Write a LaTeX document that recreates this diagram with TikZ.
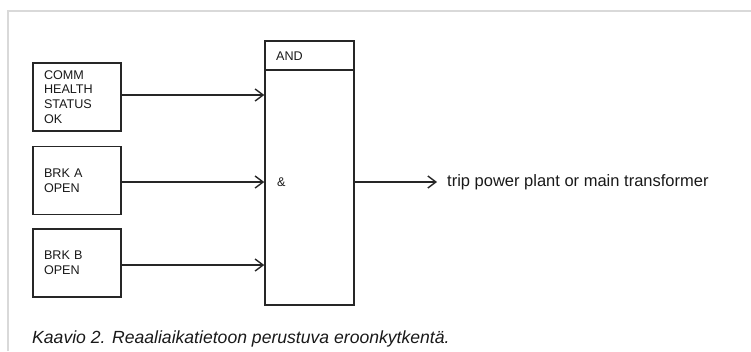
\documentclass[tikz,border=0pt]{standalone}
\usepackage{fontspec}
\setmainfont{Liberation Sans}
\usetikzlibrary{arrows.meta}
\begin{document}
\begin{tikzpicture}[x=1pt,y=-1pt,
  line/.style={draw=black!85,line width=1.5pt},
  arr/.style={line,-{Straight Barb[length=8pt,width=12pt,line width=1.4pt]}},
  inbox/.style={line,rectangle,minimum width=88pt,minimum height=68pt,inner xsep=11pt,inner ysep=0pt,
    text width=66pt,align=left,font=\fontsize{12.6}{14.7}\selectfont,text=black!90},
  lbl/.style={inner sep=0pt,anchor=west,text=black!90}]
\useasboundingbox (0,0) rectangle (751,351);
\draw[gray!30,line width=2pt] (8,351) -- (8,11) -- (751,11);
% input boxes
\node[inbox] (b1) at (77,97) {COMM\\HEALTH\\STATUS\\OK};
\node[inbox] (b2) at (77,180.5) {BRK A\\OPEN};
\node[inbox] (b3) at (77,263) {BRK B\\OPEN};
% AND block
\node[line,rectangle,minimum width=89pt,minimum height=29pt,inner sep=0pt] (andhead) at (309.5,55.5) {};
\node[line,rectangle,minimum width=89pt,minimum height=235pt,inner sep=0pt] (andbody) at (309.5,187.5) {};
\node[lbl,font=\fontsize{12.6}{14}\selectfont] (andtxt) at (276,56) {AND};
\node[lbl,font=\fontsize{12.6}{14}\selectfont] (amp) at (277,182) {\&};
% connectors
\coordinate (y1) at (0,95);
\coordinate (y2) at (0,182);
\coordinate (y3) at (0,265);
\draw[arr] (b1.east |- y1) -- (andbody.west |- y1);
\draw[arr] (b2.east |- y2) -- (andbody.west |- y2);
\draw[arr] (b3.east |- y3) -- (andbody.west |- y3);
\coordinate (outend) at (437,182);
\draw[arr] (andbody.east |- y2) -- (outend);
\node[lbl,font=\fontsize{16.5}{18}\selectfont] (out) at (447,182) {trip power plant or main transformer};
% caption
\node[lbl,font=\fontsize{17.6}{20}\selectfont\itshape] (cap) at (32,339) {Kaavio 2. Reaaliaikatietoon perustuva eroonkytkentä.};
\end{tikzpicture}
\end{document}
